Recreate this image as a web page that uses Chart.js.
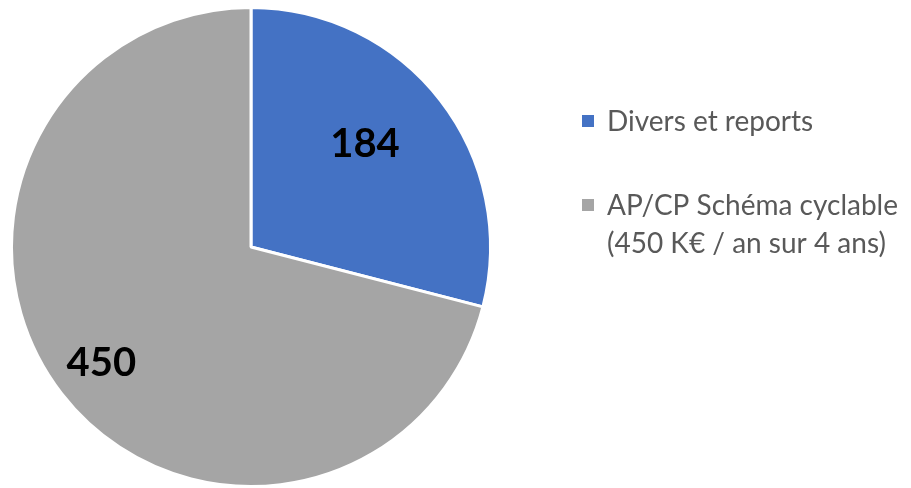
<!DOCTYPE html>
<html>
<head>
<meta charset="utf-8">
<script src="https://cdn.jsdelivr.net/npm/chart.js@4"></script>
<style>
    html, body { margin: 0; padding: 0; background: #ffffff; }
    #wrap { width: 911px; height: 488px; }
</style>
</head>
<body>
<div id="wrap"><canvas id="pieChart" width="911" height="488"></canvas></div>
<script>
const categories = ["Divers et reports", ["AP/CP Schéma cyclable", "(450 K€ / an sur 4 ans)"]];
const values = [184, 450];
const colors = ["#4472C4", "#A5A5A5"];

// value labels inside the slices (Excel "best fit" style placement)
const labelPlacement = [
    { angle: 0.46, radius: 0.64 },
    { angle: 0.5, radius: 0.79 },
];

const valueLabels = {
    id: "valueLabels",
    afterDatasetsDraw(chart) {
        const ctx = chart.ctx;
        const meta = chart.getDatasetMeta(0);
        ctx.save();
        ctx.font = "bold 40px Lato, 'DejaVu Sans', sans-serif";
        ctx.fillStyle = "#000000";
        ctx.textAlign = "center";
        ctx.textBaseline = "middle";
        meta.data.forEach((arc, i) => {
            const p = labelPlacement[i];
            const a = arc.startAngle + (arc.endAngle - arc.startAngle) * p.angle;
            const r = arc.outerRadius * p.radius;
            ctx.fillText(String(values[i]), arc.x + Math.cos(a) * r, arc.y + Math.sin(a) * r);
        });
        ctx.restore();
    },
};

// legend on the right, drawn on the canvas
const sideLegend = {
    id: "sideLegend",
    afterDraw(chart) {
        const ctx = chart.ctx;
        ctx.save();
        ctx.font = "28px Lato, 'DejaVu Sans', sans-serif";
        ctx.textBaseline = "alphabetic";
        ctx.textAlign = "left";
        const tops = [131, 215];
        const lineHeight = 38;
        categories.forEach((label, i) => {
            const lines = Array.isArray(label) ? label : [label];
            ctx.fillStyle = colors[i];
            ctx.fillRect(582, tops[i] - 16, 12, 12);
            ctx.fillStyle = "#595959";
            lines.forEach((line, j) => {
                ctx.fillText(line, 607, tops[i] + j * lineHeight);
            });
        });
        ctx.restore();
    },
};

new Chart(document.getElementById("pieChart"), {
    type: "pie",
    data: {
        labels: categories,
        datasets: [
            {
                data: values,
                backgroundColor: colors,
                borderColor: "#ffffff",
                borderWidth: 3,
                hoverOffset: 0,
            },
        ],
    },
    options: {
        responsive: false,
        animation: false,
        events: [],
        layout: {
            padding: { left: 8, top: 6, right: 417, bottom: 0 },
        },
        plugins: {
            legend: { display: false },
            tooltip: { enabled: false },
        },
    },
    plugins: [valueLabels, sideLegend],
});
</script>
</body>
</html>
